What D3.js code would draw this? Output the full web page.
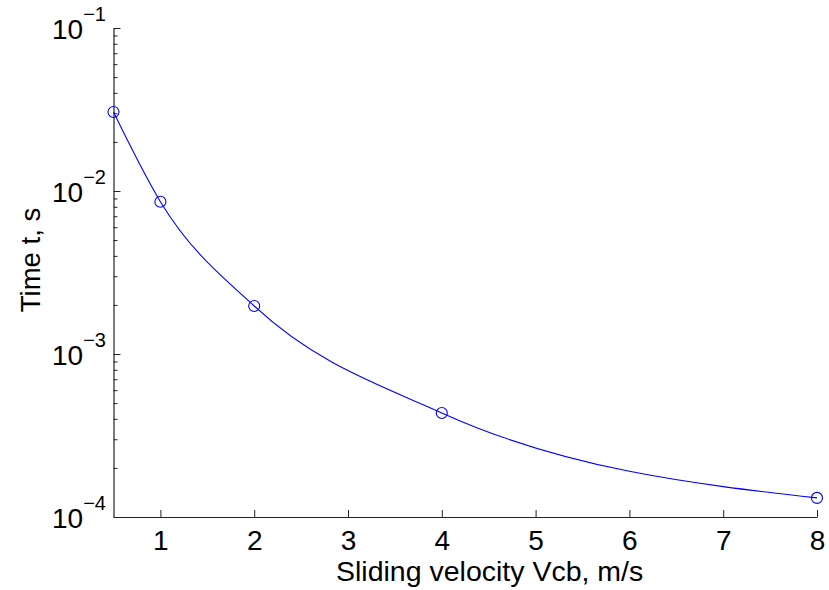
<!DOCTYPE html>
<html>
<head>
<meta charset="utf-8">
<script src="https://cdn.jsdelivr.net/npm/d3@7"></script>
<style>
  html, body { margin: 0; padding: 0; background: #fff; }
  svg { display: block; font-family: "Liberation Sans", Arial, sans-serif; }
</style>
</head>
<body>
<svg id="chart" width="829" height="590"></svg>
<script>
// ---- data ----
const velocity = [0.5, 1, 2, 4, 8];                       // m/s
const timeValues = [0.0305, 0.0086, 0.00197, 0.000435, 0.000131]; // s
const xTickValues = [1, 2, 3, 4, 5, 6, 7, 8];
const yTickExponents = [-4, -3, -2, -1];
const xLabelText = "Sliding velocity Vcb, m/s";
const yLabelText = "Time t, s";

(function () {
// ---- layout ----
const mLeft = 113.5, mRight = 817, mTop = 28, mBottom = 517;
const svg = d3.select("#chart");

const x = d3.scaleLinear().domain([0.5, 8]).range([mLeft, mRight]);
const y = d3.scaleLog().domain([1e-4, 1e-1]).range([mBottom, mTop]);

const axisColor = "#222";

// x axis
const gx = svg.append("g").attr("transform", `translate(0,${mBottom})`)
  .call(d3.axisBottom(x).tickValues(xTickValues).tickSizeInner(-7).tickSizeOuter(0).tickPadding(0).tickFormat(d3.format("d")));
gx.select(".domain").attr("stroke", axisColor).attr("stroke-width", 1.2);
gx.selectAll(".tick line").attr("stroke", axisColor);
gx.selectAll(".tick text").attr("fill", "#000").attr("font-size", 28)
  .attr("dy", null).attr("y", 33);

// y axis major
const majorVals = yTickExponents.map(e => Math.pow(10, e));
const gy = svg.append("g").attr("transform", `translate(${mLeft},0)`)
  .call(d3.axisLeft(y).tickValues(majorVals).tickSizeInner(-7).tickSizeOuter(0).tickFormat(""));
gy.select(".domain").attr("stroke", axisColor).attr("stroke-width", 1.2);
gy.selectAll(".tick line").attr("stroke", axisColor);

// y axis minor
const minorVals = [];
yTickExponents.slice(0, -1).forEach(e => { for (let k = 2; k <= 9; k++) minorVals.push(k * Math.pow(10, e)); });
const gyMinor = svg.append("g").attr("transform", `translate(${mLeft},0)`)
  .call(d3.axisLeft(y).tickValues(minorVals).tickSizeInner(-4).tickSizeOuter(0).tickFormat(""));
gyMinor.select(".domain").remove();
gyMinor.selectAll(".tick line").attr("stroke", axisColor);

// y tick labels 10^e
const yl = svg.append("g");
yTickExponents.forEach(e => {
  const t = yl.append("text")
    .attr("x", 106).attr("y", y(Math.pow(10, e)) + 11)
    .attr("text-anchor", "end").attr("fill", "#000").attr("font-size", 28);
  t.append("tspan").text("10");
  t.append("tspan").attr("dy", -18).attr("font-size", 20).text("\u2212" + Math.abs(e));
});

// axis labels
svg.append("text").attr("x", 336).attr("y", 581)
  .attr("text-anchor", "start").attr("font-size", 28.5).attr("fill", "#000").text(xLabelText);
svg.append("text").attr("transform", `translate(40,260) rotate(-90)`)
  .attr("text-anchor", "middle").attr("font-size", 27.5).attr("fill", "#000").text(yLabelText);

// line + markers
const pts = velocity.map((v, i) => [v, timeValues[i]]);
const line = d3.line().x(d => x(d[0])).y(d => y(d[1])).curve(d3.curveMonotoneX);
svg.append("path").datum(pts).attr("d", line)
  .attr("fill", "none").attr("stroke", "#0000ff").attr("stroke-width", 1.1);
svg.append("g").selectAll("circle").data(pts).join("circle")
  .attr("cx", d => x(d[0])).attr("cy", d => y(d[1])).attr("r", 5.5)
  .attr("fill", "none").attr("stroke", "#0000ff").attr("stroke-width", 1.1);
})();
</script>
</body>
</html>
